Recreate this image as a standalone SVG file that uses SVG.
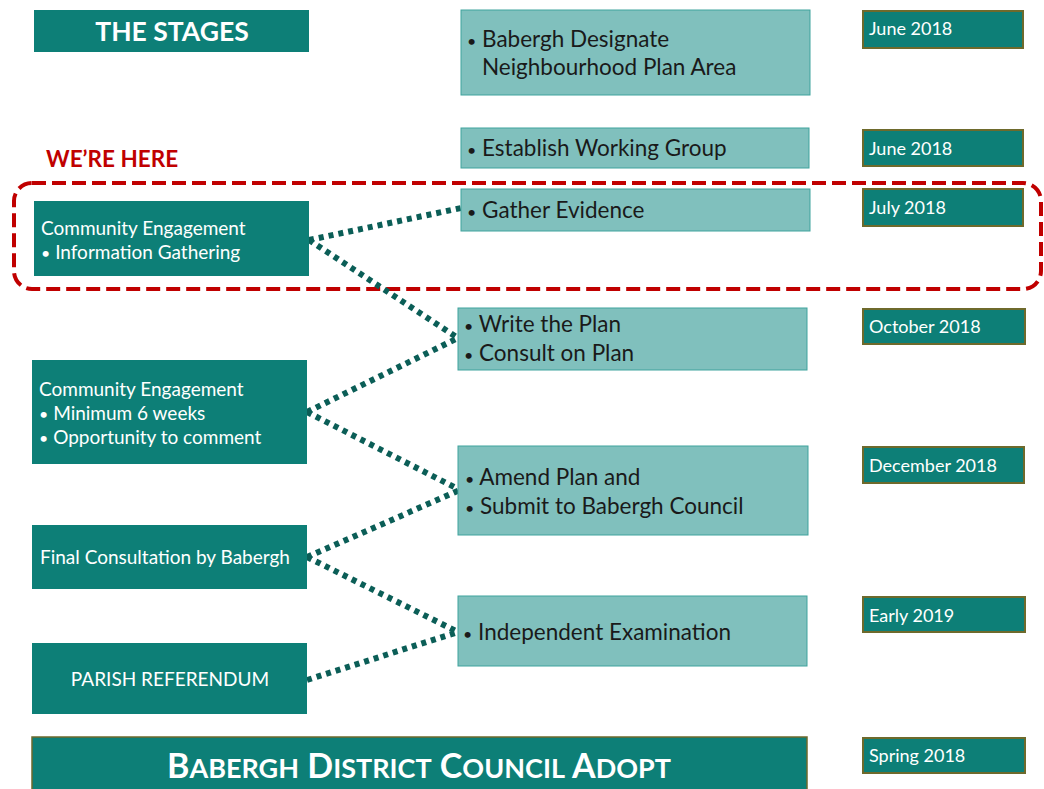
<svg xmlns="http://www.w3.org/2000/svg" width="1044" height="789" viewBox="0 0 1044 789">
  <style>
    .dark { fill: #0d7f77; }
    .light { fill: #80c0bd; stroke: #3fa39d; stroke-width: 1; }
    .date { fill: #0d7f77; stroke: #6e6a2c; stroke-width: 2; }
    .wt { font-family: Lato, "Open Sans", "Liberation Sans", sans-serif; fill: #ffffff; }
    .bt { font-family: Lato, "Open Sans", "Liberation Sans", sans-serif; fill: #1a1a1a; font-size: 22.5px; }
    .dt { font-family: Lato, "Open Sans", "Liberation Sans", sans-serif; fill: #ffffff; font-size: 18px; }
    .lt { font-family: Lato, "Open Sans", "Liberation Sans", sans-serif; fill: #ffffff; font-size: 19px; }
    .b { font-size: 16px; }
    .link { stroke: #0b5e57; stroke-width: 6; stroke-dasharray: 5 5; fill: none; }
  </style>

  <rect width="1044" height="789" fill="#ffffff"/>

  <!-- header -->
  <g id="title">
    <rect class="dark" x="34" y="10" width="275" height="42"/>
    <text class="wt" x="172" y="41" font-size="26.5" font-weight="bold" text-anchor="middle">THE STAGES</text>
  </g>

  <!-- current-stage highlight -->
  <g id="here">
    <text x="46" y="167" font-family="Lato, 'Open Sans', 'Liberation Sans', sans-serif" font-size="22.5" font-weight="bold" fill="#c00000">WE’RE HERE</text>
    <rect x="14" y="183" width="1027" height="106" rx="18" fill="none" stroke="#c00000" stroke-width="4" stroke-dasharray="14 6"/>
  </g>

  <!-- connectors -->
  <g id="connectors">
    <line class="link" x1="309" y1="240" x2="461" y2="208"/>
    <line class="link" x1="309" y1="240" x2="458" y2="338"/>
    <line class="link" x1="307" y1="412" x2="458" y2="338"/>
    <line class="link" x1="307" y1="412" x2="460" y2="490"/>
    <line class="link" x1="307" y1="557" x2="460" y2="490"/>
    <line class="link" x1="307" y1="557" x2="458" y2="632"/>
    <line class="link" x1="307" y1="680" x2="458" y2="632"/>
  </g>

  <!-- stage boxes -->
  <g id="stage-designate">
    <rect class="light" x="461" y="10" width="349" height="85"/>
    <text class="bt" x="467" y="47"><tspan class="b">•</tspan> Babergh Designate</text>
    <text class="bt" x="482" y="75">Neighbourhood Plan Area</text>
  </g>
  <g id="stage-working-group">
    <rect class="light" x="461" y="128" width="348" height="40"/>
    <text class="bt" x="467" y="156"><tspan class="b">•</tspan> Establish Working Group</text>
  </g>
  <g id="stage-evidence">
    <rect class="light" x="461" y="189" width="349" height="42"/>
    <text class="bt" x="467" y="218"><tspan class="b">•</tspan> Gather Evidence</text>
  </g>
  <g id="stage-write">
    <rect class="light" x="458" y="308" width="349" height="62"/>
    <text class="bt" x="464" y="332"><tspan class="b">•</tspan> Write the Plan</text>
    <text class="bt" x="464" y="361"><tspan class="b">•</tspan> Consult on Plan</text>
  </g>
  <g id="stage-amend">
    <rect class="light" x="458" y="446" width="350" height="89"/>
    <text class="bt" x="465" y="485"><tspan class="b">•</tspan> Amend Plan and</text>
    <text class="bt" x="465" y="514"><tspan class="b">•</tspan> Submit to Babergh Council</text>
  </g>
  <g id="stage-exam">
    <rect class="light" x="458" y="596" width="349" height="70"/>
    <text class="bt" x="463" y="640"><tspan class="b">•</tspan> Independent Examination</text>
  </g>

  <!-- engagement boxes -->
  <g id="engage-info">
    <rect class="dark" x="34" y="201" width="275" height="75"/>
    <text class="lt" x="41" y="235">Community Engagement</text>
    <text class="lt" x="41" y="259"><tspan class="b">•</tspan>  Information Gathering</text>
  </g>
  <g id="engage-consult">
    <rect class="dark" x="32" y="360" width="275" height="104"/>
    <text class="lt" x="39" y="396">Community Engagement</text>
    <text class="lt" x="39" y="420"><tspan class="b">•</tspan>  Minimum 6 weeks</text>
    <text class="lt" x="39" y="444"><tspan class="b">•</tspan>  Opportunity to comment</text>
  </g>
  <g id="final-consultation">
    <rect class="dark" x="32" y="525" width="275" height="64"/>
    <text class="lt" x="40" y="564">Final Consultation by Babergh</text>
  </g>
  <g id="referendum">
    <rect class="dark" x="32" y="643" width="275" height="71"/>
    <text class="lt" x="170" y="686" text-anchor="middle">PARISH REFERENDUM</text>
  </g>
  <g id="adopt">
    <rect class="dark" x="32" y="737" width="775" height="60" stroke="#6e6a2c" stroke-width="1.5"/>
    <text class="wt" x="419" y="778" font-size="34" font-weight="bold" text-anchor="middle">B<tspan font-size="27">ABERGH</tspan> D<tspan font-size="27">ISTRICT</tspan> C<tspan font-size="27">OUNCIL</tspan> A<tspan font-size="27">DOPT</tspan></text>
  </g>

  <!-- dates -->
  <g id="date-1">
    <rect class="date" x="863" y="11" width="160" height="37"/>
    <text class="dt" x="869" y="35">June 2018</text>
  </g>
  <g id="date-2">
    <rect class="date" x="863" y="130" width="160" height="36"/>
    <text class="dt" x="869" y="155">June 2018</text>
  </g>
  <g id="date-3">
    <rect class="date" x="863" y="189" width="160" height="37"/>
    <text class="dt" x="869" y="214">July 2018</text>
  </g>
  <g id="date-4">
    <rect class="date" x="863" y="309" width="162" height="35"/>
    <text class="dt" x="869" y="333">October 2018</text>
  </g>
  <g id="date-5">
    <rect class="date" x="863" y="447" width="161" height="36"/>
    <text class="dt" x="869" y="472">December 2018</text>
  </g>
  <g id="date-6">
    <rect class="date" x="863" y="597" width="162" height="35"/>
    <text class="dt" x="869" y="622">Early 2019</text>
  </g>
  <g id="date-7">
    <rect class="date" x="863" y="738" width="162" height="35"/>
    <text class="dt" x="869" y="762">Spring 2018</text>
  </g>
</svg>
